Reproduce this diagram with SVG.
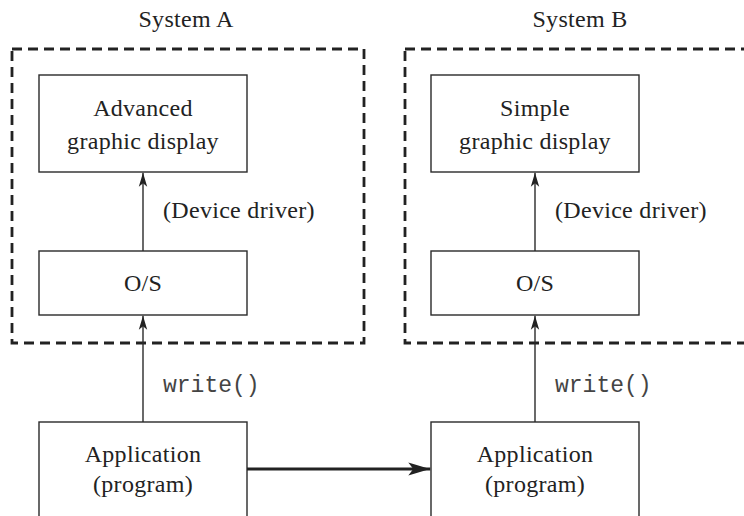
<svg xmlns="http://www.w3.org/2000/svg" width="744" height="516" viewBox="0 0 744 516">
  <style>
    .box { fill: #ffffff; stroke: #2a2a2a; stroke-width: 1.4; }
    .sys { fill: none; stroke: #222222; stroke-width: 2.8; stroke-dasharray: 10 6; }
    .lbl { font-family: "Liberation Serif", "Times New Roman", serif; font-size: 24px; letter-spacing: 0.3px; fill: #222222; }
    .mid { text-anchor: middle; }
    .code { font-family: "Liberation Mono", "Courier New", monospace; font-size: 23px; fill: #444444; }
    .wire { fill: none; stroke: #2a2a2a; stroke-width: 1.4; }
    .bus { fill: none; stroke: #222222; stroke-width: 3; }
  </style>
  <defs>
    <marker id="tip" markerUnits="userSpaceOnUse" markerWidth="14" markerHeight="10" viewBox="0 0 14 10" refX="14" refY="5" orient="auto">
      <path d="M14,5 L0,0.8 L3.5,5 L0,9.2 Z" fill="#222222"/>
    </marker>
    <marker id="tipBold" markerUnits="userSpaceOnUse" markerWidth="22" markerHeight="14" viewBox="0 0 22 14" refX="22" refY="7" orient="auto">
      <path d="M22,7 L0,0.5 L5,7 L0,13.5 Z" fill="#222222"/>
    </marker>
  </defs>

  <!-- System boundaries -->
  <g id="systemA">
    <rect class="sys" x="12" y="49" width="352" height="294"/>
    <text class="lbl mid" x="186" y="27">System A</text>
  </g>
  <g id="systemB">
    <rect class="sys" x="405" y="49" width="352" height="294"/>
    <text class="lbl mid" x="580" y="27">System B</text>
  </g>

  <!-- System A components -->
  <g id="displayA">
    <rect class="box" x="39" y="75" width="208" height="97"/>
    <text class="lbl mid" x="143" y="116">Advanced</text>
    <text class="lbl mid" x="143" y="149">graphic display</text>
  </g>
  <g id="osA">
    <rect class="box" x="39" y="251" width="208" height="64"/>
    <text class="lbl mid" x="143" y="291">O/S</text>
  </g>
  <g id="appA">
    <rect class="box" x="39" y="422" width="208" height="120"/>
    <text class="lbl mid" x="143" y="462">Application</text>
    <text class="lbl mid" x="143" y="492">(program)</text>
  </g>

  <!-- System B components -->
  <g id="displayB">
    <rect class="box" x="431" y="75" width="208" height="97"/>
    <text class="lbl mid" x="535" y="116">Simple</text>
    <text class="lbl mid" x="535" y="149">graphic display</text>
  </g>
  <g id="osB">
    <rect class="box" x="431" y="251" width="208" height="64"/>
    <text class="lbl mid" x="535" y="291">O/S</text>
  </g>
  <g id="appB">
    <rect class="box" x="431" y="422" width="208" height="120"/>
    <text class="lbl mid" x="535" y="462">Application</text>
    <text class="lbl mid" x="535" y="492">(program)</text>
  </g>

  <!-- Connectors -->
  <g id="connectors">
    <line class="wire" x1="143" y1="251" x2="143" y2="172.7" marker-end="url(#tip)"/>
    <line class="wire" x1="143" y1="422" x2="143" y2="315.7" marker-end="url(#tip)"/>
    <line class="wire" x1="535" y1="251" x2="535" y2="172.7" marker-end="url(#tip)"/>
    <line class="wire" x1="535" y1="422" x2="535" y2="315.7" marker-end="url(#tip)"/>
    <line class="bus" x1="247" y1="469" x2="430.3" y2="469" marker-end="url(#tipBold)"/>
    <text class="lbl" x="163" y="218">(Device driver)</text>
    <text class="lbl" x="555" y="218">(Device driver)</text>
    <text class="code" x="163" y="392">write()</text>
    <text class="code" x="555" y="392">write()</text>
  </g>
</svg>
